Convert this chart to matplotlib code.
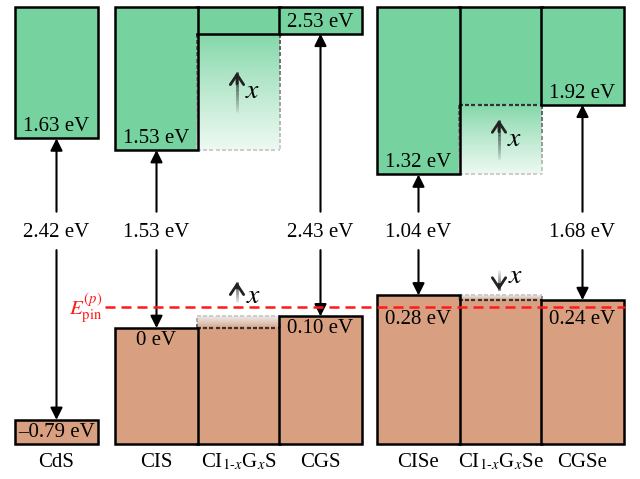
import numpy as np
import matplotlib
matplotlib.use("Agg")
import matplotlib.pyplot as plt
from matplotlib.patches import Rectangle
from matplotlib.collections import LineCollection
from matplotlib.colors import to_rgb

plt.rcParams["font.family"] = ["Liberation Serif", "DejaVu Serif"]
plt.rcParams["mathtext.fontset"] = "stix"

# Band edges (eV, referenced to the CIS valence band). NaN = alloy, taken from neighbours.
materials = ["CdS", "CIS", r"CI$_{1\text{-}x}$G$_x$S", "CGS",
             "CISe", r"CI$_{1\text{-}x}$G$_x$Se", "CGSe"]
cbm = [1.63, 1.53, np.nan, 2.53, 1.32, np.nan, 1.92]
vbm = [-0.79, 0.00, np.nan, 0.10, 0.28, np.nan, 0.24]
gaps = [2.42, 1.53, np.nan, 2.43, 1.04, np.nan, 1.68]
e_pin = 0.18

# Layout (x in pixel-like units, y in eV)
box_left = [15, 115, 197, 279, 377, 459, 541]
box_w = 83
e_top, e_bot = 2.76, -1.0
PX_PER_EV = 116.3
GREEN, BROWN = "#76D3A0", "#D99F81"
FS = 15


def ev_label(v):
    if v == 0:
        return "0 eV"
    return f"{v:.2f} eV".replace("-", "\u2013")


def mix(c0, c1, t):
    c0, c1 = np.array(to_rgb(c0)), np.array(to_rgb(c1))
    return tuple(c0 * (1 - t) + c1 * t)


def grad_dashes(ax, p0, p1, c0, c1, on=4, off=2.2, lw=1.4, zorder=2.2):
    """Dashed segment whose colour runs from c0 (at p0) to c1 (at p1)."""
    (x0, y0), (x1, y1) = p0, p1
    length = np.hypot(x1 - x0, (y1 - y0) * PX_PER_EV)
    segs, cols = [], []
    s = 0.0
    while s < length:
        e = min(s + on, length)
        a, b = s / length, e / length
        segs.append([(x0 + (x1 - x0) * a, y0 + (y1 - y0) * a),
                     (x0 + (x1 - x0) * b, y0 + (y1 - y0) * b)])
        cols.append(mix(c0, c1, (a + b) / 2))
        s += on + off
    ax.add_collection(LineCollection(segs, colors=cols, linewidths=lw, zorder=zorder))


def fade(ax, x0, x1, y_solid, y_far, near, far, edge_dashed=True):
    """Alloy range: colour fades from the solid band edge toward the other end member."""
    n = 80
    lo, hi = min(y_solid, y_far), max(y_solid, y_far)
    ys = np.linspace(lo, hi, n)
    t = np.abs(ys - y_solid) / (hi - lo)
    rgba = np.ones((n, 2, 4))
    for k in range(n):
        rgba[k, :, :3] = mix(near, far, t[k] ** 0.9)
    ax.imshow(rgba, extent=[x0, x1, lo, hi], origin="lower", aspect="auto",
              interpolation="bilinear", zorder=1.5)
    for xs in (x0, x1):
        grad_dashes(ax, (xs, y_solid), (xs, y_far), "#555555", "#d0d0d0")
    grad_dashes(ax, (x0, y_far), (x1, y_far), "#cccccc", "#cccccc")
    if edge_dashed:
        grad_dashes(ax, (x0, y_solid), (x1, y_solid), "#333333", "#333333",
                    lw=1.6, zorder=2.5)
    else:
        ax.plot([x0, x1], [y_solid, y_solid], color="black", lw=1.8, zorder=3)


def x_arrow(ax, x, yc, direction, length):
    """Composition arrow that fades out toward its tail."""
    tail = yc - direction * length / 2
    head = yc + direction * length / 2
    n = 30
    ys = np.linspace(tail, head, n + 1)
    segs = [[(x, ys[k]), (x, ys[k + 1])] for k in range(n)]
    cols = [(0.15, 0.15, 0.15, 0.1 + 0.9 * s) for s in np.linspace(0, 1, n)]
    ax.add_collection(LineCollection(segs, colors=cols, linewidths=2.0, zorder=4))
    ax.annotate("", xy=(x, head), xytext=(x, head - direction * length * 0.3),
                arrowprops=dict(arrowstyle="->,head_length=0.45,head_width=0.3",
                                color="#222222", lw=2.0, shrinkA=0, shrinkB=0,
                                mutation_scale=16), zorder=4)


fig = plt.figure(figsize=(6.4, 4.79), dpi=100)
ax = fig.add_axes([0, 0, 1, 1])

for i, name in enumerate(materials):
    x0 = box_left[i]
    xc = x0 + box_w / 2
    alloy = np.isnan(cbm[i])
    if alloy:
        cb_a, cb_b = cbm[i - 1], cbm[i + 1]
        vb_a, vb_b = vbm[i - 1], vbm[i + 1]
        cb_solid, cb_far = max(cb_a, cb_b), min(cb_a, cb_b)
        vb_solid, vb_far = min(vb_a, vb_b), max(vb_a, vb_b)
    else:
        cb_solid, vb_solid = cbm[i], vbm[i]

    # conduction and valence band blocks
    for y0, h, c in [(cb_solid, e_top - cb_solid, GREEN),
                     (e_bot, vb_solid - e_bot, BROWN)]:
        ax.add_patch(Rectangle((x0, y0), box_w, h, facecolor=c,
                               edgecolor="none", zorder=1))
        if alloy:
            y_out = y0 + h if c == GREEN else y0
            ax.plot([x0, x0 + box_w], [y_out, y_out], color="black", lw=1.8, zorder=3)
        else:
            ax.add_patch(Rectangle((x0, y0), box_w, h, fill=False,
                                   edgecolor="black", lw=1.8, zorder=3))

    if alloy:
        fade(ax, x0, x0 + box_w, cb_solid, cb_far, "#82D7A8", "#EEF9F2",
             edge_dashed=(i == 5))
        fade(ax, x0, x0 + box_w, vb_solid, vb_far, "#D9A386", "#EBEBEB")
        # composition arrows
        d_cb = np.sign(cb_b - cb_a)
        y_cb = (cb_a + cb_b) / 2
        x_arrow(ax, xc - 1.5, y_cb, d_cb, 0.34)
        ax.text(xc + 14, y_cb, "$x$", fontsize=20, ha="center", va="center", zorder=4)
        d_vb = np.sign(vb_b - vb_a)
        y_vb = max(vb_far, e_pin) + 0.13
        x_arrow(ax, xc - 1.5, y_vb, d_vb, 0.17)
        ax.text(xc + 15, y_vb - d_vb * 0.035, "$x$", fontsize=20,
                ha="center", va="center", zorder=4)
    else:
        ax.text(xc, cbm[i] + 0.10, ev_label(cbm[i]), fontsize=FS,
                ha="center", va="center", zorder=4)
        ax.text(xc, min(vbm[i], e_pin) - 0.105, ev_label(vbm[i]), fontsize=FS,
                ha="center", va="center", zorder=4)
        # band gap arrows
        ax.text(xc, 0.82, f"{gaps[i]:.2f} eV", fontsize=FS,
                ha="center", va="center", zorder=4)
        arrow = dict(arrowstyle="-|>,head_length=0.6,head_width=0.3",
                     color="black", lw=1.5, shrinkA=0, shrinkB=0,
                     mutation_scale=12)
        ax.annotate("", xy=(xc, cbm[i]), xytext=(xc, 1.0), arrowprops=arrow, zorder=4)
        ax.annotate("", xy=(xc, vbm[i]), xytext=(xc, 0.67), arrowprops=arrow, zorder=4)

    ax.text(xc, -1.152, name, fontsize=FS, ha="center", va="center")

# Fermi level pinning position
ax.plot([105, 625], [e_pin, e_pin], color="#ff1a1a", ls=(0, (4, 2.4)), lw=1.8, zorder=5)
ax.text(102, e_pin, r"$E_{\mathrm{pin}}^{(p)}$", color="#ff1a1a", fontsize=FS,
        ha="right", va="center")

ax.set_xlim(0, 640)
ax.set_ylim(-1.298, 2.820)
ax.axis("off")
fig.savefig("out.png", dpi=100)
